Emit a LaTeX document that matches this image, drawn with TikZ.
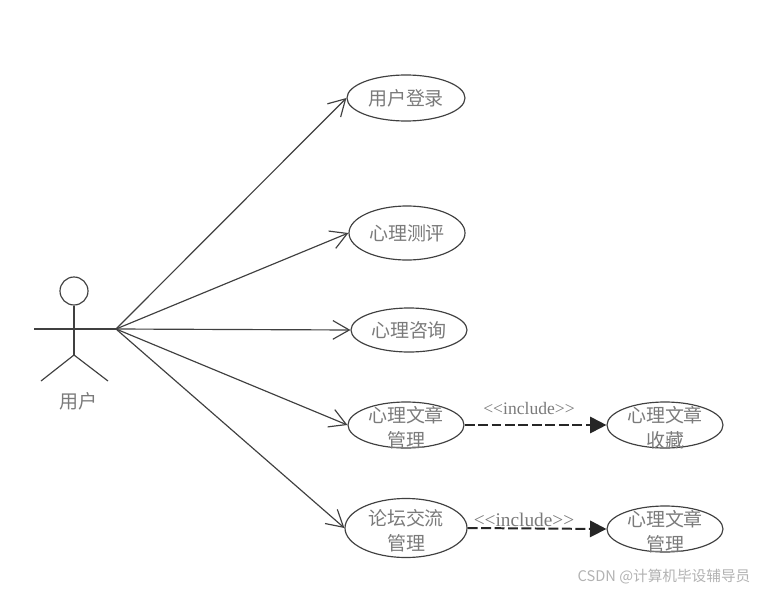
\documentclass[tikz,border=0pt]{standalone}
\usepackage{fontspec}
\setmainfont{Liberation Serif}
\newfontfamily\cjk{Noto Sans CJK SC}
\usetikzlibrary{shapes.geometric,arrows.meta}
\definecolor{inkline}{gray}{0.25}
\definecolor{inktext}{gray}{0.48}
\begin{document}
\begin{tikzpicture}[x=0.03cm,y=-0.03cm,
  every node/.style={font=\cjk\fontsize{16.2}{21.3}\selectfont,text=inktext},
  limb/.style={draw=inkline,line width=1pt},
  usecase/.style={ellipse,draw=inkline,line width=1pt,inner sep=0pt,align=center},
  casetext/.style={align=center,inner sep=0pt,yshift=-0.08cm},
  assoc/.style={draw=inkline,line width=1pt,-{Straight Barb[length=14pt,width=16pt,line width=1pt]}},
  incl/.style={draw=black!85,line width=1.7pt,dash pattern=on 8.5pt off 3pt,-{Triangle[length=14pt,width=14pt]}},
  inclabel/.style={font=\fontsize{15}{18}\selectfont,inner sep=0pt}]
\useasboundingbox (0,0) rectangle (757,591);
% actor on the left
\node[circle,limb,minimum size=0.84cm,inner sep=0pt] (head) at (74,291) {};
\coordinate (crotch) at (74,355);
\coordinate (armL) at (34,329);
\coordinate (hub) at (116,329);
\coordinate (footL) at (41,381);
\coordinate (footR) at (108,381);
\draw[limb] (head) -- (crotch);
\draw[limb] (armL) -- (hub);
\draw[limb] (footL) -- (crotch) -- (footR);
\node (user) at (78,401) {用户};
% use cases
\node[usecase,minimum width=3.54cm,minimum height=1.38cm] (login) at (406,98) {用户登录};
\node[usecase,minimum width=3.48cm,minimum height=1.62cm] (test) at (407,233) {心理测评};
\node[usecase,minimum width=3.48cm,minimum height=1.32cm] (consult) at (409,330) {心理咨询};
% two lines of text stick out of these, so they sit in a label
\node[usecase,minimum width=3.48cm,minimum height=1.38cm,label={[casetext]center:心理文章\\管理}] (article) at (406,425) {};
\node[usecase,minimum width=3.66cm,minimum height=1.77cm,label={[casetext]center:论坛交流\\管理}] (forum) at (406,528) {};
\node[usecase,minimum width=3.48cm,minimum height=1.38cm,label={[casetext]center:心理文章\\收藏}] (favour) at (665,425) {};
\node[usecase,minimum width=3.48cm,minimum height=1.38cm,label={[casetext]center:心理文章\\管理}] (manage) at (665,529) {};
% associations from the actor
\foreach \c in {login,test,consult,article,forum} \draw[assoc] (hub) -- (\c.west);
% include relations
\draw[incl] (article) -- (favour);
\draw[incl] (forum.east) -- (manage.west);
\node[inclabel] (inclA) at (529,408) {<{}<include>{}>};
\node[inclabel,font=\fontsize{16.5}{18}\selectfont] (inclB) at (524,520) {<{}<include>{}>};
% watermark
\node[font=\cjk\fontsize{12.5}{14}\selectfont,text=black!30,inner sep=0pt] (mark) at (664,577) {CSDN @计算机毕设辅导员};
\end{tikzpicture}
\end{document}
